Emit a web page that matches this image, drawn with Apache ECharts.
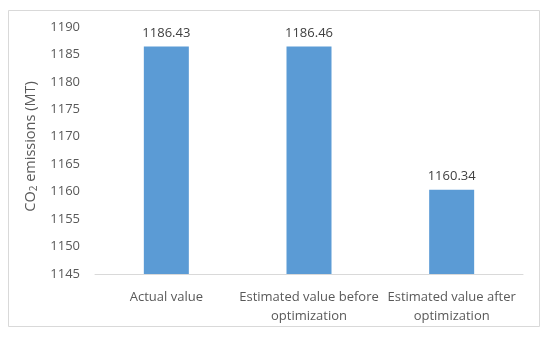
<!DOCTYPE html>
<html><head><meta charset="utf-8">
<script src="https://cdn.jsdelivr.net/npm/echarts@6/dist/echarts.min.js"></script>
<style>html,body{margin:0;padding:0;background:#fff}#c{width:550px;height:340px}</style>
</head><body><div id="c"></div>
<script>
var categories = ['Actual value', 'Estimated value before\noptimization', 'Estimated value after\noptimization'];
var values = [1186.43, 1186.46, 1160.34];
var yMin = 1145, yMax = 1190, yStep = 5;

var chart = echarts.init(document.getElementById('c'), null, {renderer: 'canvas'});
var font = '"Open Sans", sans-serif';
chart.setOption({
  animation: false,
  backgroundColor: '#fff',
  graphic: [{type: 'rect', shape: {x: 8.5, y: 10.5, width: 531, height: 316}, style: {fill: 'none', stroke: '#d9d9d9', lineWidth: 1}, z: -1}],
  grid: {left: 95, right: 27, top: 27, bottom: 66},
  xAxis: {
    type: 'category', data: categories,
    axisLine: {lineStyle: {color: '#d9d9d9'}},
    axisTick: {show: false},
    axisLabel: {color: '#595959', fontFamily: font, fontSize: 13, lineHeight: 19, margin: 14, interval: 0}
  },
  yAxis: {
    type: 'value', min: yMin, max: yMax, interval: yStep,
    splitLine: {show: false},
    axisLine: {show: false}, axisTick: {show: false},
    axisLabel: {color: '#595959', fontFamily: font, fontSize: 13, margin: 15,
      formatter: function (v) { return String(v); }},
    name: 'CO{sub|2} emissions (MT)',
    nameLocation: 'middle', nameRotate: 90, nameGap: 48,
    nameTextStyle: {color: '#595959', fontFamily: font, fontSize: 14.5, padding: [0, 0, 0, 8],
      rich: {sub: {fontSize: 10, fontFamily: font, color: '#595959', verticalAlign: 'bottom', padding: [7, 0, 0, 0]}}}
  },
  series: [{
    type: 'bar', data: values, barWidth: 45,
    itemStyle: {color: '#5b9bd5'},
    label: {show: true, position: 'top', distance: 7, color: '#404040', fontFamily: font, fontSize: 13,
      formatter: function (p) { return p.value.toFixed(2); }}
  }]
});
</script></body></html>
